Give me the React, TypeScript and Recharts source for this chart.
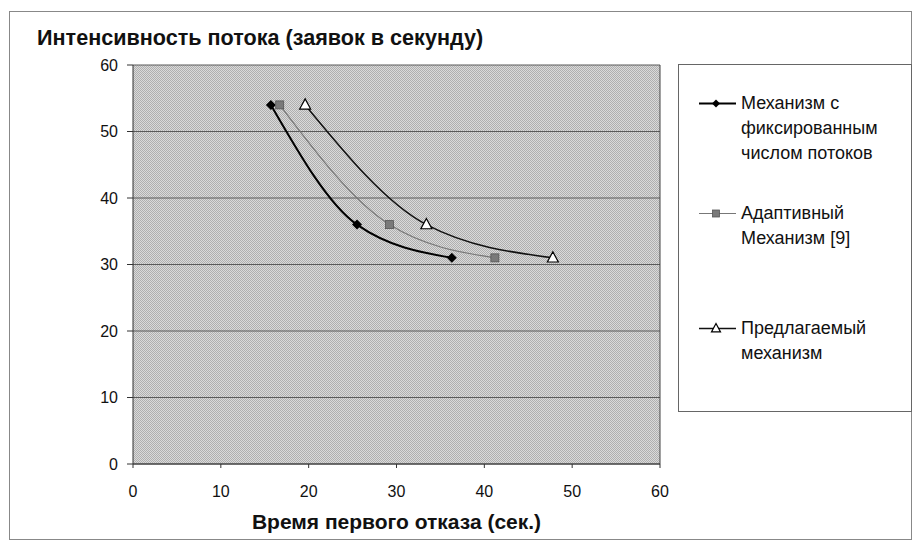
import React from "react";
import {
    LineChart,
    Line,
    XAxis,
    YAxis,
    CartesianGrid,
    ReferenceLine,
} from "recharts";

const FONT = "'Liberation Sans', Arial, sans-serif";

const xTicks = [0, 10, 20, 30, 40, 50, 60];
const yTicks = [0, 10, 20, 30, 40, 50, 60];

// время первого отказа (сек.) / интенсивность потока
const fixedTime = [15.7, 25.5, 36.3];
const fixedRate = [54, 36, 31];
const adaptiveTime = [16.7, 29.2, 41.2];
const adaptiveRate = [54, 36, 31];
const proposedTime = [19.6, 33.4, 47.8];
const proposedRate = [54, 36, 31];

const seriesNames = [
    "Механизм с\nфиксированным\nчислом потоков",
    "Адаптивный\nМеханизм [9]",
    "Предлагаемый\nмеханизм",
];

const toPoints = (xs: number[], ys: number[]) => xs.map((x, i) => ({ x, y: ys[i] }));

const fixedData = toPoints(fixedTime, fixedRate);
const adaptiveData = toPoints(adaptiveTime, adaptiveRate);
const proposedData = toPoints(proposedTime, proposedRate);

function Diamond({ cx, cy, r = 5 }: { cx: number; cy: number; r?: number }) {
    return (
        <polygon
            points={`${cx},${cy - r} ${cx + r},${cy} ${cx},${cy + r} ${cx - r},${cy}`}
            fill="#000"
        />
    );
}

function Square({ cx, cy, r = 4 }: { cx: number; cy: number; r?: number }) {
    return <rect x={cx - r} y={cy - r} width={2 * r} height={2 * r} fill="#7a7a7a" stroke="#555" strokeWidth={0.8} />;
}

function Triangle({ cx, cy, r = 5.5 }: { cx: number; cy: number; r?: number }) {
    return (
        <polygon
            points={`${cx},${cy - r * 1.1} ${cx + r},${cy + r * 0.75} ${cx - r},${cy + r * 0.75}`}
            fill="#fff"
            stroke="#000"
            strokeWidth={1.2}
        />
    );
}

const markers = [Diamond, Square, Triangle];
const legendMarkerSize = [4, 3.5, 4.5];
const lineColors = ["#000", "#777", "#111"];
const lineWidths = [2, 1.2, 1.5];
const entryGaps = [26, 35, 65];

function LegendBox() {
    return (
        <div
            style={{
                position: "absolute",
                left: 678,
                top: 64,
                width: 234,
                height: 348,
                border: "1px solid #666",
                boxSizing: "border-box",
                background: "#fff",
                fontFamily: FONT,
                fontSize: 18,
                lineHeight: "25px",
                color: "#111",
            }}
        >
            {seriesNames.map((name, i) => {
                const M = markers[i];
                return (
                    <div key={i} style={{ display: "flex", marginTop: entryGaps[i] }}>
                        <svg width={62} height={25} style={{ flex: "none" }}>
                            <line x1={20} y1={12.5} x2={57} y2={12.5} stroke={lineColors[i]} strokeWidth={lineWidths[i]} />
                            <M cx={37} cy={12.5} r={legendMarkerSize[i]} />
                        </svg>
                        <div style={{ whiteSpace: "pre-line" }}>{name}</div>
                    </div>
                );
            })}
        </div>
    );
}

export default function App() {
    return (
        <div style={{ position: "absolute", left: 0, top: 0, width: 919, height: 546, background: "#fff", fontFamily: FONT }}>
            <div
                style={{
                    position: "absolute",
                    left: 9,
                    top: 11,
                    width: 903,
                    height: 529,
                    border: "1px solid #888",
                    boxSizing: "border-box",
                }}
            />
            <div style={{ position: "absolute", left: 37, top: 25, fontSize: 21.6, fontWeight: "bold", color: "#111" }}>
                Интенсивность потока (заявок в секунду)
            </div>
            <div
                style={{
                    position: "absolute",
                    left: 133,
                    width: 527,
                    top: 510,
                    textAlign: "center",
                    fontSize: 21,
                    fontWeight: "bold",
                    color: "#111",
                }}
            >
                Время первого отказа (сек.)
            </div>
            <LineChart
                width={919}
                height={546}
                margin={{ top: 65, right: 259, bottom: 52, left: 0 }}
                style={{ position: "absolute", left: 0, top: 0 }}
            >
                <defs>
                    <pattern id="dither" width="2" height="2" patternUnits="userSpaceOnUse">
                        <rect width="2" height="2" fill="#dadada" />
                        <rect width="1" height="1" fill="#afafaf" />
                        <rect x="1" y="1" width="1" height="1" fill="#afafaf" />
                    </pattern>
                </defs>
                <CartesianGrid vertical={false} stroke="#5a5a5a" fill="url(#dither)" fillOpacity={1} />
                <XAxis
                    type="number"
                    dataKey="x"
                    domain={[0, 60]}
                    ticks={xTicks}
                    allowDuplicatedCategory={false}
                    height={30}
                    stroke="#333"
                    tickSize={4}
                    tickMargin={18}
                    tick={{ fill: "#111", fontSize: 16, fontFamily: FONT }}
                />
                <YAxis
                    type="number"
                    dataKey="y"
                    domain={[0, 60]}
                    ticks={yTicks}
                    width={133}
                    stroke="#333"
                    tickSize={6}
                    tickMargin={9}
                    tick={{ fill: "#111", fontSize: 16, fontFamily: FONT }}
                />
                <ReferenceLine x={60} stroke="#444" />
                <Line
                    data={fixedData}
                    dataKey="y"
                    name={seriesNames[0]}
                    type="monotone"
                    stroke={lineColors[0]}
                    strokeWidth={lineWidths[0]}
                    dot={(p: any) => <Diamond key={p.index} cx={p.cx} cy={p.cy} />}
                    isAnimationActive={false}
                />
                <Line
                    data={adaptiveData}
                    dataKey="y"
                    name={seriesNames[1]}
                    type="monotone"
                    stroke={lineColors[1]}
                    strokeWidth={lineWidths[1]}
                    dot={(p: any) => <Square key={p.index} cx={p.cx} cy={p.cy} />}
                    isAnimationActive={false}
                />
                <Line
                    data={proposedData}
                    dataKey="y"
                    name={seriesNames[2]}
                    type="monotone"
                    stroke={lineColors[2]}
                    strokeWidth={lineWidths[2]}
                    dot={(p: any) => <Triangle key={p.index} cx={p.cx} cy={p.cy} />}
                    isAnimationActive={false}
                />
            </LineChart>
            <LegendBox />
        </div>
    );
}
